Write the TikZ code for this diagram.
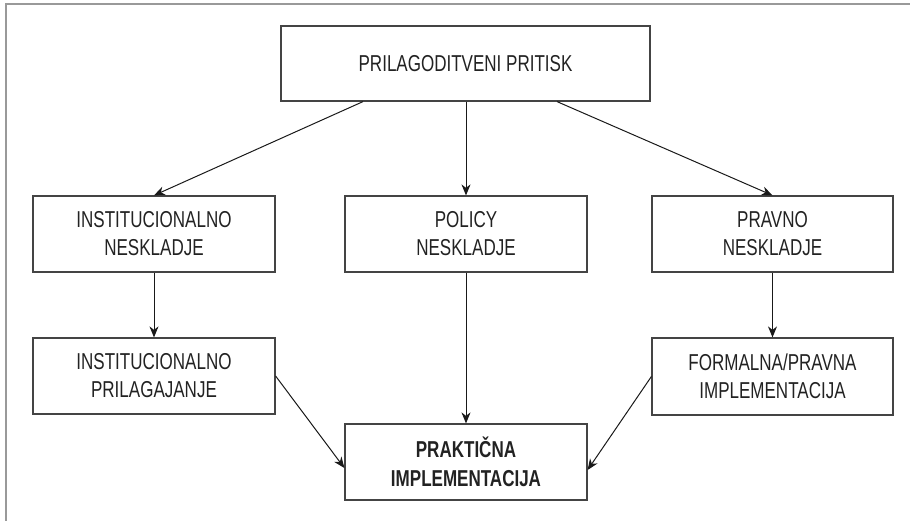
\documentclass[tikz,border=0pt]{standalone}
\usepackage{fontspec}
\setmainfont[FakeStretch=0.74]{Liberation Sans}
\usetikzlibrary{arrows.meta}
\definecolor{boxline}{HTML}{444444}
\definecolor{frameline}{HTML}{999999}
\definecolor{txt}{HTML}{222222}
\begin{document}
\begin{tikzpicture}[x=1pt,y=-1pt,
  box/.style={draw=boxline,line width=1.2pt,text=txt,align=center,inner sep=0pt,
    font=\fontsize{23}{28}\selectfont,minimum height=76pt,minimum width=242pt},
  arr/.style={draw=black!90,line width=1pt,-{Stealth[length=11pt,width=9pt,inset=3.5pt]}}]
\useasboundingbox (0,0) rectangle (910,521);
\draw[frameline,line width=2pt] (5.5,521) -- (5.5,4.5) -- (910,4.5);
\node[box,minimum width=369pt,minimum height=75pt] (top) at (465.5,63.5) {PRILAGODITVENI PRITISK};
\node[box] (inst1) at (154,234) {INSTITUCIONALNO\\NESKLADJE};
\node[box] (policy) at (466,234) {POLICY\\NESKLADJE};
\node[box,minimum width=241pt] (pravno) at (772.5,234) {PRAVNO\\NESKLADJE};
\node[box] (inst2) at (154,376) {INSTITUCIONALNO\\PRILAGAJANJE};
\node[box,minimum width=241pt,minimum height=77pt] (formal) at (772.5,376.5) {FORMALNA/PRAVNA\\IMPLEMENTACIJA};
\node[box,font=\fontsize{23}{29}\selectfont\bfseries] (prak) at (466,462) {PRAKTIČNA\\IMPLEMENTACIJA};
\draw[arr] ([xshift=-102.5pt]top.south) -- (inst1.north);
\draw[arr] (top.south -| policy.north) -- (policy.north);
\draw[arr] ([xshift=91.5pt]top.south) -- (pravno.north);
\draw[arr] (inst1.south) -- (inst2.north);
\draw[arr] (pravno.south) -- (formal.north);
\draw[arr] (policy.south) -- (prak.north);
\draw[arr] (inst2.east) -- ([yshift=-6pt]prak.west);
\draw[arr] (formal.west) -- ([yshift=-8pt]prak.east);
\end{tikzpicture}
\end{document}
